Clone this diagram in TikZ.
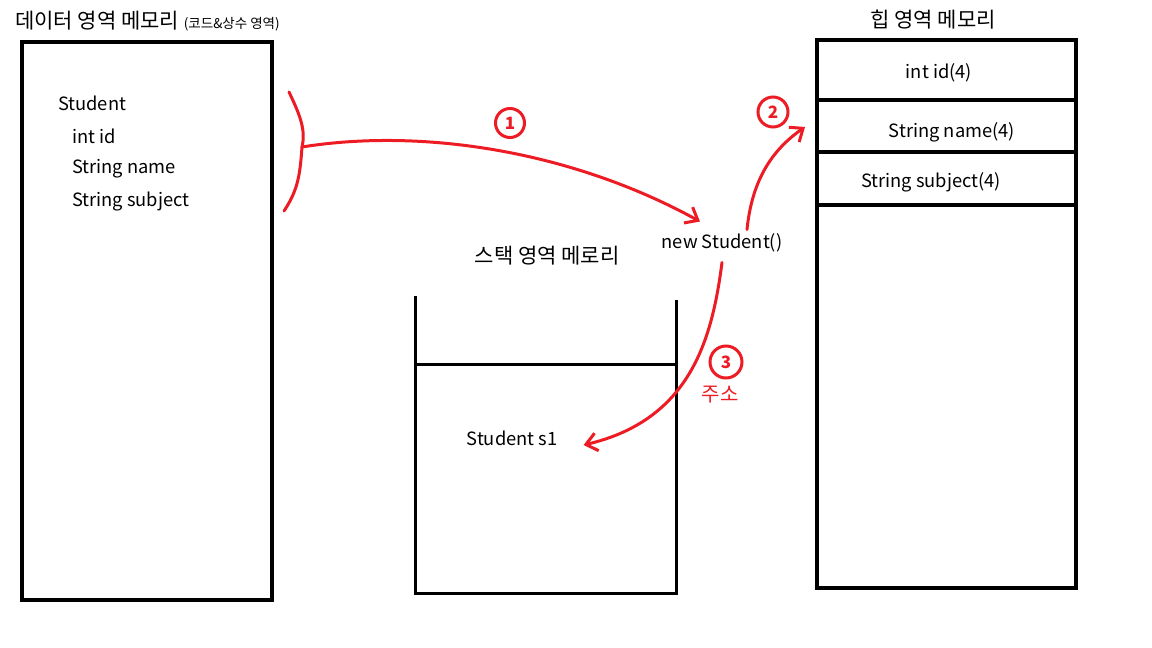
\documentclass[tikz,border=0pt]{standalone}
\usepackage{fontspec}
\setmainfont{Noto Sans CJK KR}
\usetikzlibrary{arrows.meta,calc}
\definecolor{pen}{RGB}{237,28,36}
\tikzset{
  box/.style={draw=black, line width=4pt},
  wall/.style={draw=black, line width=3pt},
  txt/.style={font=\fontsize{18.3}{20}\selectfont, inner sep=0pt},
  ttl/.style={font=\fontsize{21}{24}\selectfont, inner sep=0pt},
  redline/.style={draw=pen, line width=3pt, line cap=round, line join=round},
  redarrow/.style={redline, -{Straight Barb[length=11pt, width=18pt, line width=3pt]}},
  marker/.style={circle, draw=pen, line width=3pt, text=pen, inner sep=0pt, minimum size=29pt, font=\fontsize{17}{18}\selectfont\bfseries},
}
\begin{document}
\begin{tikzpicture}[x=1pt, y=-1pt]
\useasboundingbox (0,0) rectangle (1152,648);

% data area
\node[anchor=west, inner sep=0pt] (ttlData) at (15,21) {\fontsize{21}{24}\selectfont 데이터 영역 메모리 \fontsize{13.5}{15}\selectfont(코드\&상수 영역)};
\draw[box] (22,42) rectangle (272,600);
\node[txt, anchor=west] (cls) at (58,103) {Student};
\node[txt, anchor=west] (fid) at (72,136) {int id};
\node[txt, anchor=west] (fname) at (72,169) {String name};
\node[txt, anchor=west] (fsubj) at (72,202) {String subject};

% heap area
\node[ttl] (ttlHeap) at (933,20) {힙 영역 메모리};
\draw[box] (817,40) rectangle (1076,588);
\draw[box] (817,100) -- (1076,100);
\draw[box] (817,152) -- (1076,152);
\draw[box] (817,205) -- (1076,205);
\node[txt] (hid) at (939,73) {int id(4)};
\node[txt] (hname) at (952,132) {String name(4)};
\node[txt] (hsubj) at (931,182) {String subject(4)};
\coordinate (heapName) at (805,127);

% new Student()
\node[txt] (newobj) at (722,243) {new Student()};
\coordinate (n1) at ($(newobj.north)+(-22,-12)$);
\coordinate (n2) at ($(newobj.north)+(25,-4)$);
\coordinate (n3) at ($(newobj.south)+(0,10)$);

% stack area
\node[ttl] (ttlStack) at (547,256) {스택 영역 메로리};
\draw[wall] (415,296) -- (415,593) -- (676,593) -- (676,300);
\draw[wall] (415,364) -- (676,364);
\node[txt] (s1) at (512,438) {Student s1};
\coordinate (s1r) at ($(s1.east)+(26,7)$);

% bracket and arrow 1
\coordinate (brTop) at (289,92);
\coordinate (brMid) at (302,147);
\coordinate (brBot) at (284,211);
\draw[redline] (brTop) .. controls (300,115) and (306,130) .. (brMid)
                       .. controls (300,175) and (298,190) .. (brBot);
\draw[redarrow] (brMid) .. controls (420,128) and (570,150) .. (n1);
\node[marker] (m1) at (510,123) {1};

% arrow 2
\draw[redarrow] (n2) .. controls (752,180) and (772,150) .. (heapName);
\node[marker, minimum size=30pt] (m2) at (773,112) {2};

% arrow 3
\draw[redarrow] (n3) .. controls (712,340) and (690,420) .. (s1r);
\node[marker, minimum size=32pt] (m3) at (726,362) {3};
\node[text=pen, font=\fontsize{20}{22}\selectfont, inner sep=0pt] (addr) at (720,395) {주소};
\end{tikzpicture}
\end{document}
